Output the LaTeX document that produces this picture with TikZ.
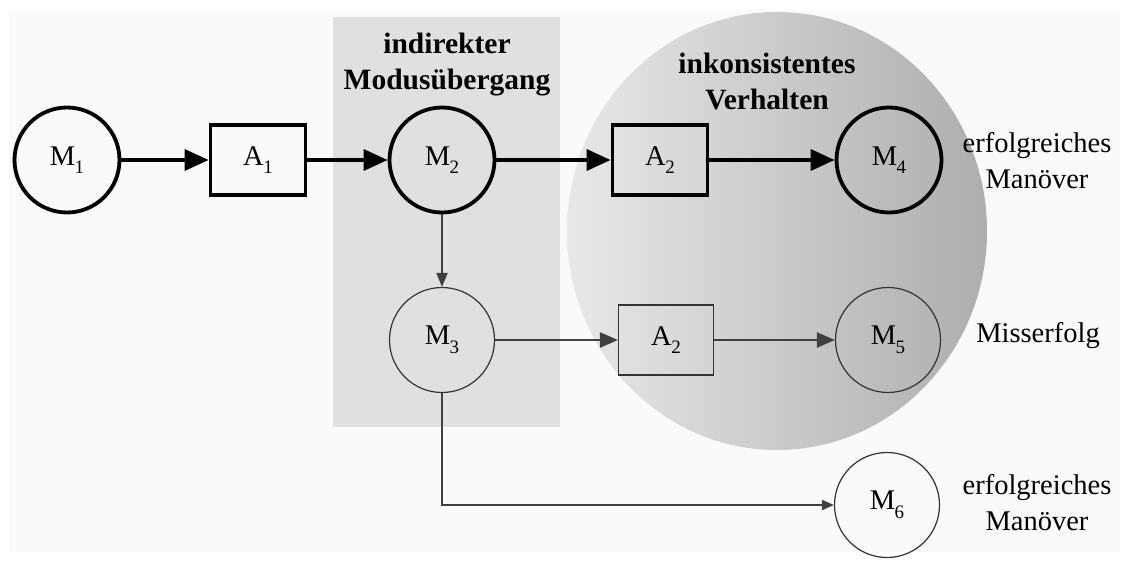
\documentclass[tikz,border=0pt]{standalone}
\usepackage{fontspec}
\setmainfont{Liberation Serif}
\usetikzlibrary{arrows.meta}
\newcommand{\idx}[1]{\kern-0.5pt\raisebox{-0.3em}{\fontsize{19}{19}\selectfont #1}}
\tikzset{
  zustand/.style={circle,draw,minimum size=105pt,inner sep=0pt},
  aktion/.style={rectangle,draw,minimum width=95pt,minimum height=70pt,inner sep=0pt},
  fett/.style={line width=3.8pt},
  duenn/.style={line width=1.2pt,draw=black!80},
  pfeil/.style={line width=3.5pt,-{Triangle[length=24pt,width=21pt]}},
  pfeild/.style={line width=2pt,draw=black!75,-{Triangle[length=14pt,width=11pt]}},
  titel/.style={font=\fontsize{29.5}{36}\selectfont\bfseries,align=center},
  notiz/.style={align=center}
}
\begin{document}
\begin{tikzpicture}[x=1pt,y=-1pt,font=\fontsize{28.5}{36}\selectfont]
        \useasboundingbox (0,0) rectangle (1129,562);
        \fill[black!2] (9,10) rectangle (1120,552);
        \fill[black!12] (333,17) rectangle (560,427);
        \shade[left color=black!9,right color=black!32] (777,231) ellipse [x radius=210pt,y radius=219pt];
        \node[titel] (tindir) at (447,65) {indirekter\\Modusübergang};
        \node[titel] (tinkon) at (767,81) {inkonsistentes\\Verhalten};
        \node[zustand,fett] (m1) at (67,160) {M\idx{1}};
        \node[aktion,fett] (a1) at (258,160) {A\idx{1}};
        \node[zustand,fett] (m2) at (442,160) {M\idx{2}};
        \node[aktion,fett] (a2o) at (660,160) {A\idx{2}};
        \node[zustand,fett] (m4) at (889,160) {M\idx{4}};
        \node[zustand,duenn] (m3) at (442,340) {M\idx{3}};
        \node[aktion,duenn] (a2u) at (666,340) {A\idx{2}};
        \node[zustand,duenn] (m5) at (888,340) {M\idx{5}};
        \node[zustand,duenn] (m6) at (887,505) {M\idx{6}};
        \node[notiz] (n4) at (1037,161) {erfolgreiches\\Manöver};
        \node[notiz] (n5) at (1038,336) {Misserfolg};
        \node[notiz] (n6) at (1037,503) {erfolgreiches\\Manöver};
        \draw[pfeil] (m1) -- (a1);
        \draw[pfeil] (a1) -- (m2);
        \draw[pfeil] (m2) -- (a2o);
        \draw[pfeil] (a2o) -- (m4);
        \draw[pfeild] (m2) -- (m3);
        \draw[pfeild,line width=2.5pt,-{Triangle[length=18pt,width=15pt]}] (m3) -- (a2u);
        \draw[pfeild,line width=2.5pt,-{Triangle[length=18pt,width=15pt]}] (a2u) -- (m5);
        \draw[pfeild,-{Triangle[length=12pt,width=10pt]}] (m3) |- (m6);
        \end{tikzpicture}
\end{document}
